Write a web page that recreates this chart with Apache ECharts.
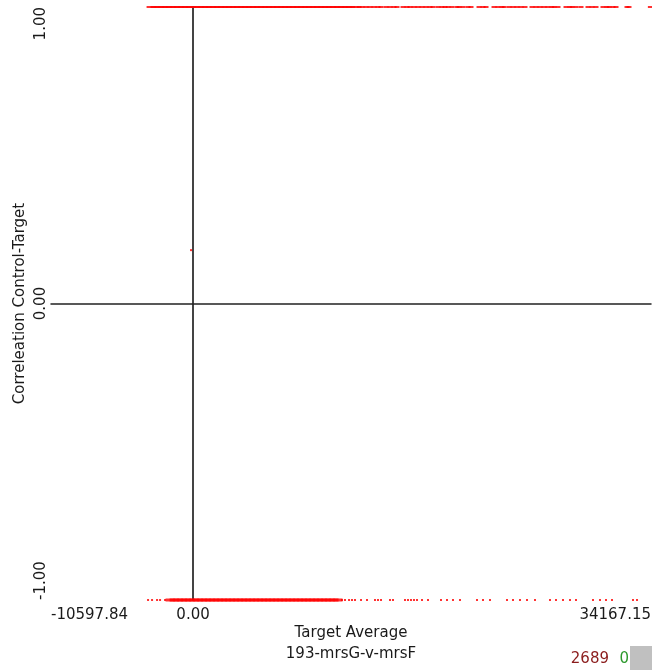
<!DOCTYPE html>
<html>
<head>
<meta charset="utf-8">
<title>Target Average vs Correlation</title>
<script src="https://cdn.jsdelivr.net/npm/echarts@6/dist/echarts.min.js"></script>
<style>
  html, body { margin: 0; padding: 0; background: #ffffff; }
  #chart { width: 652px; height: 670px; }
</style>
</head>
<body>
<div id="chart"></div>
<script>
// Axis ranges and tick labels
const xRange = [-10597.84, 34167.15];
const yRange = [-1, 1];
const xTickValues = [-10597.84, 0, 34167.15];
const yTickValues = [1, 0, -1];

const xTitle = 'Target Average';
const comparisonName = '193-mrsG-v-mrsF';
const yTitle = 'Correleation Control-Target';
const countRed = '2689';
const countGreen = '0';

// Probes with correlation +1: target average values
const posDense = [
  -3133, -2840, -2530, -2241, -1935, -1648, -1340, -1049, -741, -452, -146, 152,
  445, 751, 1040, 1347, 1636, 1944, 2233, 2541, 2830, 3138, 3427, 3735, 4024, 4331,
  4620, 4928, 5217, 5525, 5814, 6122, 6411, 6719, 7008, 7316, 7605, 7912, 8201,
  8509, 8798, 9106, 9395, 9703, 9992, 10300, 10589, 10896, 11185, 11493, 11782, 12090
];
const posSparse = [
  12384, 12607, 12906, 13204, 13503, 13801, 14025, 14398, 14696, 14995, 15218,
  15666, 15964, 16188, 16487, 16785, 17083, 17382, 17680, 17904, 18277, 18575,
  18799, 19023, 19321, 19694, 19844, 20142, 20515, 20739, 21336, 21634, 21858,
  22455, 22753, 23051, 23201, 23574, 23872, 24170, 24469, 24767, 25289, 25588,
  25886, 26185, 26483, 26781, 26931, 27229, 27826, 28124, 28273, 28572, 28945,
  29467, 29765, 30064, 30586, 30884, 31034, 31332, 31556, 32376, 32526, 34120
];

// Probes with correlation -1: target average values
const negDense = [
  -1716, -1417, -1119, -821, -522, -224, 75, 373, 671, 970, 1268, 1567, 1865,
  2163, 2462, 2760, 3059, 3357, 3655, 3954, 4252, 4551, 4849, 5147, 5446, 5744,
  6043, 6341, 6639, 6938, 7236, 7535, 7833, 8131, 8430, 8728, 9027, 9325, 9623,
  9922, 10220, 10519, 10817
];
const negSparse = [
  -3357, -3059, -2686, -2462, -2089, 11115, 11339, 11638, 11861, 12085, 12533,
  12980, 13577, 13801, 14025, 14696, 14920, 15815, 16039, 16263, 16487, 16710,
  17083, 17531, 18501, 18948, 19396, 19918, 21186, 21634, 22156, 23424, 23872,
  24394, 24916, 25513, 26632, 27080, 27602, 28124, 28572, 29840, 30362, 30810,
  31257, 32824, 33122
];

// Single probe with intermediate correlation
const midPoints = [[-150, 0.18]];

const FONT = 'DejaVu Sans';
const TEXT = '#1a1a1a';

function pairs(xs, y) { return xs.map(function (x) { return [x, y]; }); }

const chart = echarts.init(document.getElementById('chart'), null, { renderer: 'canvas' });

const pointStyle = { color: '#ff0000' };

chart.setOption({
  animation: false,
  backgroundColor: '#ffffff',
  grid: { left: 51, right: 1, top: 7, bottom: 66, containLabel: false },
  xAxis: [
    {
      type: 'value', min: xRange[0], max: xRange[1],
      axisLine: { show: true, onZero: true, lineStyle: { color: '#222222', width: 1.5 } },
      axisTick: { show: false }, axisLabel: { show: false }, splitLine: { show: false }
    },
    {
      type: 'value', min: xRange[0], max: xRange[1], position: 'bottom',
      axisLine: { show: false, onZero: false }, axisTick: { show: false },
      axisLabel: { show: false }, splitLine: { show: false },
      name: xTitle + '\n' + comparisonName, nameLocation: 'middle', nameGap: 23,
      nameTextStyle: { fontFamily: FONT, fontSize: 15, color: TEXT, lineHeight: 21 }
    }
  ],
  yAxis: [
    {
      type: 'value', min: yRange[0], max: yRange[1],
      axisLine: { show: true, onZero: true, lineStyle: { color: '#444444', width: 2 } },
      axisTick: { show: false }, axisLabel: { show: false }, splitLine: { show: false }
    },
    {
      type: 'value', min: yRange[0], max: yRange[1], position: 'left',
      axisLine: { show: false, onZero: false }, axisTick: { show: false },
      axisLabel: { show: false }, splitLine: { show: false },
      name: yTitle, nameLocation: 'middle', nameGap: 23,
      nameTextStyle: { fontFamily: FONT, fontSize: 15, color: TEXT }
    }
  ],
  series: [
    { type: 'scatter', data: pairs(posDense, 1), symbol: 'rect', symbolSize: [9, 2], itemStyle: pointStyle, silent: true },
    { type: 'scatter', data: pairs(posSparse, 1), symbol: 'rect', symbolSize: [5, 2], itemStyle: pointStyle, silent: true },
    { type: 'scatter', data: pairs(negDense, -1), symbol: 'rect', symbolSize: [9, 3], itemStyle: pointStyle, silent: true },
    { type: 'scatter', data: pairs(negSparse, -1), symbol: 'rect', symbolSize: [2, 2], itemStyle: pointStyle, silent: true },
    { type: 'scatter', data: midPoints, symbol: 'rect', symbolSize: [2, 2], itemStyle: pointStyle, silent: true }
  ]
});

// Tick labels positioned through the grid's coordinate system
const graphics = [];
const baseY = chart.convertToPixel({ gridIndex: 0 }, [0, yRange[0]])[1];
xTickValues.forEach(function (v, i) {
  const px = chart.convertToPixel({ gridIndex: 0 }, [v, 0])[0];
  graphics.push({
    type: 'text', x: px, y: baseY + 8,
    style: {
      text: v.toFixed(2), fontFamily: FONT, fontSize: 15, fill: TEXT,
      align: i === 0 ? 'left' : (i === xTickValues.length - 1 ? 'right' : 'center'),
      verticalAlign: 'top'
    }
  });
});
const leftX = chart.convertToPixel({ gridIndex: 0 }, [xRange[0], 0])[0];
yTickValues.forEach(function (v) {
  const py = chart.convertToPixel({ gridIndex: 0 }, [0, v])[1];
  graphics.push({
    type: 'text', x: leftX - 10, y: py, rotation: Math.PI / 2,
    style: {
      text: v.toFixed(2), fontFamily: FONT, fontSize: 15, fill: TEXT,
      align: v === yRange[1] ? 'right' : (v === yRange[0] ? 'left' : 'center'),
      verticalAlign: 'middle'
    }
  });
});

// Probe counts in the bottom-right corner
graphics.push(
  { type: 'text', right: 43, bottom: 3, style: { text: countRed, fontFamily: FONT, fontSize: 15, fill: '#8b1c1c' } },
  { type: 'text', right: 23, bottom: 3, style: { text: countGreen, fontFamily: FONT, fontSize: 15, fill: '#2e9a2e' } },
  { type: 'rect', right: 0, bottom: 0, shape: { width: 22, height: 24 }, style: { fill: '#c0c0c0' } }
);

chart.setOption({ graphic: graphics });
</script>
</body>
</html>
